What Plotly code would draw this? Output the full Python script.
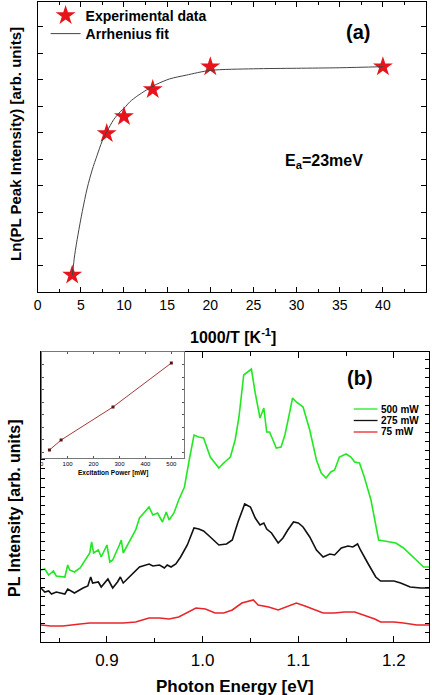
import plotly.graph_objects as go

# ---------------- panel (a) data ----------------
exp_x = [4, 8, 10, 13.33, 20, 40]
exp_y = [0.32, 2.99, 3.31, 3.82, 4.25, 4.25]

fit_x = [4.02, 4.29, 4.67, 5.17, 5.74, 6.31, 6.89, 7.46, 8.04, 8.80, 9.57, 10.03,
         10.7, 11.48, 12.6, 13.8, 15.3, 17.2, 20, 25, 30, 35, 40]
fit_y = [0.32, 0.70, 1.08, 1.52, 1.96, 2.30, 2.58, 2.84, 3.03, 3.25, 3.40, 3.47,
         3.59, 3.69, 3.81, 3.92, 4.02, 4.09, 4.18, 4.21, 4.22, 4.23, 4.25]

# ---------------- panel (b) data ----------------
g_x = [0.831, 0.835, 0.839, 0.844, 0.847, 0.856, 0.859, 0.861, 0.866, 0.872, 0.882, 0.884,
       0.886, 0.891, 0.894, 0.900, 0.903, 0.906, 0.913, 0.915, 0.917, 0.924, 0.930, 0.934,
       0.939, 0.944, 0.948, 0.953, 0.958, 0.962, 0.965, 0.970, 0.975, 0.981, 0.986, 0.991,
       0.996, 1.001, 1.008, 1.017, 1.022, 1.029, 1.034, 1.038, 1.043, 1.049, 1.051, 1.055,
       1.060, 1.064, 1.067, 1.070, 1.074, 1.077, 1.082, 1.086, 1.090, 1.094, 1.098, 1.105,
       1.112, 1.119, 1.124, 1.129, 1.134, 1.138, 1.143, 1.150, 1.155, 1.159, 1.164, 1.169,
       1.176, 1.184, 1.190, 1.202, 1.210, 1.221, 1.231, 1.237]
g_y = [72, 73, 67, 71, 66, 65, 77, 72, 70, 74, 89, 100,
       89, 92, 85, 97, 80, 82, 97, 102, 89, 102, 112, 124,
       129, 135, 127, 129, 120, 130, 122, 129, 142, 155, 182, 207,
       205, 204, 185, 174, 179, 185, 202, 225, 267, 272, 273, 249,
       224, 234, 210, 210, 200, 194, 195, 207, 225, 244, 240, 235,
       212, 182, 169, 164, 170, 172, 185, 188, 185, 180, 179, 165,
       142, 102, 101, 99, 94, 84, 75, 75]

k_x = [0.831, 0.835, 0.839, 0.842, 0.847, 0.853, 0.856, 0.859, 0.863, 0.866, 0.875, 0.880,
       0.883, 0.885, 0.891, 0.894, 0.901, 0.906, 0.911, 0.914, 0.917, 0.925, 0.934, 0.944,
       0.948, 0.955, 0.960, 0.963, 0.967, 0.972, 0.977, 0.984, 0.991, 0.996, 1.001, 1.008,
       1.017, 1.025, 1.031, 1.037, 1.044, 1.050, 1.055, 1.060, 1.064, 1.067, 1.072, 1.079,
       1.084, 1.089, 1.095, 1.100, 1.105, 1.112, 1.119, 1.126, 1.133, 1.138, 1.145, 1.152,
       1.157, 1.162, 1.165, 1.172, 1.181, 1.186, 1.200, 1.207, 1.217, 1.228, 1.237]
k_y = [54, 50, 51, 48, 50, 49, 48, 53, 51, 49, 54, 56,
       65, 59, 60, 55, 63, 54, 60, 65, 59, 67, 75, 78,
       76, 77, 74, 77, 75, 78, 85, 97, 114, 113, 111, 105,
       97, 98, 102, 120, 138, 135, 124, 117, 119, 113, 109, 99,
       104, 112, 120, 119, 115, 105, 92, 85, 88, 87, 94, 96,
       95, 98, 92, 80, 65, 61, 61, 59, 55, 54, 54]

r_x = [0.831, 0.841, 0.854, 0.861, 0.872, 0.882, 0.892, 0.903, 0.917, 0.930, 0.944, 0.955,
       0.965, 0.975, 0.986, 0.993, 1.003, 1.013, 1.022, 1.031, 1.041, 1.048, 1.053, 1.058,
       1.069, 1.079, 1.089, 1.098, 1.107, 1.117, 1.126, 1.138, 1.148, 1.159, 1.169, 1.180,
       1.186, 1.200, 1.210, 1.224, 1.237]
r_y = [17, 16, 16, 17, 18, 19, 19, 19, 19, 20, 24, 24,
       23, 25, 30, 34, 33, 29, 29, 32, 39, 41, 42, 37,
       35, 32, 36, 39, 36, 32, 29, 29, 30, 30, 27, 23,
       20, 20, 19, 17, 17]

series_names = ["500 mW", "275 mW", "75 mW"]
series_colors = ["#22e822", "#111111", "#e8262a"]

# ---------------- inset data ----------------
ins_x = [30, 75, 275, 500]
ins_y = [8, 18, 51, 95]

FONT = "Liberation Sans, Arial, sans-serif"
W, H = 432, 695


def px(x):
    return x / W


def py(y):
    return 1 - y / H


fig = go.Figure()

# panel (a)
fig.add_trace(go.Scatter(x=exp_x, y=exp_y, mode="markers", name="Experimental data",
                         marker=dict(symbol="star", size=15, color="#e8141b",
                                     line=dict(width=0)),
                         xaxis="x", yaxis="y", legend="legend"))
fig.add_trace(go.Scatter(x=fit_x, y=fit_y, mode="lines", name="Arrhenius fit",
                         line=dict(color="#444444", width=1, shape="spline", smoothing=0.8),
                         xaxis="x", yaxis="y", legend="legend2"))

# panel (b)
for xs, ys, nm, col in zip([g_x, k_x, r_x], [g_y, k_y, r_y], series_names, series_colors):
    fig.add_trace(go.Scatter(x=xs, y=ys, mode="lines", name=nm,
                             line=dict(color=col, width=1.6),
                             xaxis="x2", yaxis="y2", showlegend=False))

# inset
fig.add_trace(go.Scatter(x=ins_x, y=ins_y, mode="lines+markers",
                         line=dict(color="#a33a3a", width=1),
                         marker=dict(symbol="square", size=3, color="#5a1414"),
                         xaxis="x3", yaxis="y3", showlegend=False))

axis_common = dict(showline=True, linecolor="black", linewidth=1.3, ticks="inside",
                   tickcolor="black", showgrid=False, zeroline=False)

legend_common = dict(xanchor="left", yanchor="middle", bgcolor="rgba(0,0,0,0)",
                     borderwidth=0, font=dict(size=14, family=FONT, weight="bold"),
                     itemwidth=30)

fig.update_layout(
    width=W, height=H,
    margin=dict(l=0, r=0, t=0, b=0),
    paper_bgcolor="white", plot_bgcolor="white",
    font=dict(family=FONT, color="black"),
    xaxis=dict(domain=[px(34), px(426)], anchor="y", range=[0, 45], dtick=5,
               ticklen=5, mirror="allticks", tickfont=dict(size=14),
               minor=dict(dtick=2.5, ticks="inside", ticklen=3, tickcolor="black"),
               **axis_common),
    yaxis=dict(domain=[py(292), py(2)], anchor="x", range=[0, 5.47], tick0=0, dtick=0.5,
               ticklen=5, showticklabels=False, mirror="allticks", **axis_common),
    xaxis2=dict(domain=[px(37.3), px(429.3)], anchor="y2", range=[0.831, 1.237],
                tick0=0.9, dtick=0.1, tickformat=".1f", ticklen=6, mirror="allticks",
                tickfont=dict(size=17), ticklabelstandoff=2,
                minor=dict(dtick=0.05, ticks="inside", ticklen=4, tickcolor="black"),
                **axis_common),
    yaxis2=dict(domain=[py(642), py(352)], anchor="x2", range=[0, 290], tick0=0.2,
                dtick=9.1, ticklen=4, showticklabels=False, mirror="allticks",
                **axis_common),
    xaxis3=dict(domain=[px(38), px(182)], anchor="y3", range=[0, 550], dtick=100,
                ticklen=2, mirror="allticks", tickfont=dict(size=6), ticklabelstandoff=0,
                showline=True, linecolor="#777777", linewidth=1, ticks="inside",
                tickcolor="#555555", showgrid=False, zeroline=False),
    yaxis3=dict(domain=[py(458), py(352)], anchor="x3", range=[0, 106], tick0=6,
                dtick=12.5, ticklen=2, showticklabels=False, mirror="allticks",
                showline=True, linecolor="#777777", linewidth=1, ticks="inside",
                tickcolor="#555555", showgrid=False, zeroline=False),
    legend=dict(x=px(42), y=py(16), **legend_common),
    legend2=dict(x=px(42), y=py(34), **legend_common),
)

annotations = [
    dict(text="Ln(PL Peak Intensity) [arb. units]", x=px(11), y=py(144), textangle=-90,
         font=dict(size=15, weight="bold")),
    dict(text="1000/T [K<sup>-1</sup>]", x=px(231), y=py(336),
         font=dict(size=16, weight="bold")),
    dict(text="(a)", x=px(357), y=py(32), font=dict(size=20, weight="bold")),
    dict(text="E<sub>a</sub>=23meV", x=px(323), y=py(161), font=dict(size=16, weight="bold")),
    dict(text="(b)", x=px(359), y=py(378), font=dict(size=20, weight="bold")),
    dict(text="PL Intensity [arb. units]", x=px(10), y=py(508), textangle=-90,
         font=dict(size=16, weight="bold")),
    dict(text="Photon Energy [eV]", x=px(233), y=py(686), font=dict(size=17, weight="bold")),
    dict(text="Excitation Power [mW]", x=px(110), y=py(473), font=dict(size=6.5, weight="bold")),
]
legend_rows = [409, 420.5, 432]
shapes = []
for nm, col, ry in zip(series_names, series_colors, legend_rows):
    shapes.append(dict(type="line", xref="paper", yref="paper", x0=px(353), x1=px(377),
                       y0=py(ry), y1=py(ry), line=dict(color=col, width=1.3)))
    annotations.append(dict(text=nm, x=px(379), y=py(ry), xanchor="left",
                            font=dict(size=10, weight="bold")))

for a in annotations:
    a.setdefault("xanchor", "center")
    a.update(xref="paper", yref="paper", showarrow=False, yanchor="middle")
    a["font"].setdefault("family", FONT)
    a["font"].setdefault("color", "black")

fig.update_layout(annotations=annotations, shapes=shapes)

fig.write_html("out.html", config={"displayModeBar": False},
               post_script="document.body.style.margin='0';document.body.style.padding='0';")
